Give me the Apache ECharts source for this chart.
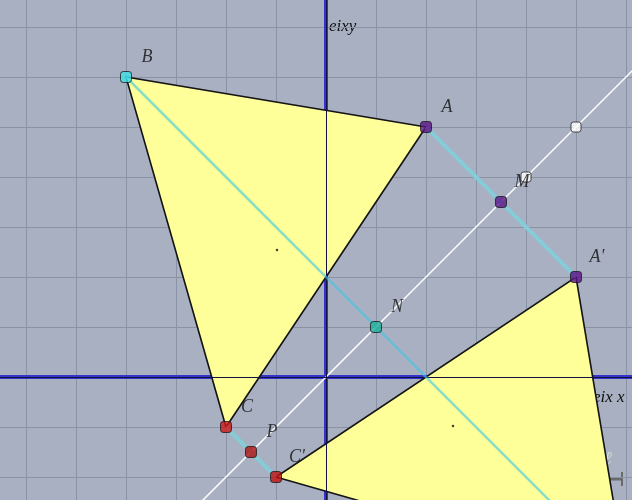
<!DOCTYPE html>
<html>
<head>
<meta charset="utf-8">
<script src="https://cdn.jsdelivr.net/npm/echarts@6/dist/echarts.min.js"></script>
<style>
  html, body { margin: 0; padding: 0; background: #a8b0c2; }
  #chart { width: 632px; height: 500px; }
</style>
</head>
<body>
<div id="chart"></div>
<script>
// triangle ABC and its mirror image A'B'C' over the line y = x
const triangleABC = [[2, 5], [-4, 6], [-2, -1]];
const triangleImage = [[5, 2], [6, -4], [-1, -2]];

// the mirror line (passes through the two white points)
const mirrorLine = [[-8, -8], [9, 9]];
const mirrorPoints = [[4, 4], [5, 5]];

// named points
const pointNames = ['B', 'A', 'M', "A'", 'N', 'C', 'P', "C'"];
const pointX = [-4, 2, 3.5, 5, 1, -2, -1.5, -1];
const pointY = [6, 5, 3.5, 2, 1, -1, -1.5, -2];
const pointColors = ['#3ee0e8', '#5a1488', '#5a1488', '#5a1488', '#1fb09a', '#d01818', '#b01010', '#c01010'];

// segments joining each point with its image
const segAA = [[2, 5], [5, 2]];
const segCC = [[-2, -1], [-1, -2]];
const segBB = [[-4, 6], [6, -4]];

// small dots inside the triangles
const innerDots = [[-0.98, 2.54], [2.54, -0.98]];

// grid lines of the plane
const gridX = [-6, -5, -4, -3, -2, -1, 1, 2, 3, 4, 5, 6];
const gridY = [-2, -1, 1, 2, 3, 4, 5, 6, 7];

const chart = echarts.init(document.getElementById('chart'));

function triangle(pts) {
    return {
        type: 'custom',
        silent: true,
        z: 2,
        data: [[0, 0]],
        renderItem: function (params, api) {
            return {
                type: 'polygon',
                shape: { points: pts.map(p => api.coord(p)) },
                style: { fill: '#ffff99', stroke: '#141414', lineWidth: 1.6 }
            };
        }
    };
}

function segment(pts, color, width, opacity, z) {
    return {
        type: 'line',
        silent: true,
        z: z,
        data: pts,
        symbol: 'none',
        lineStyle: { color: color, width: width, opacity: opacity },
        animation: false
    };
}

const labelFont = { fontFamily: 'Liberation Serif', fontStyle: 'italic', fontSize: 18, color: '#111' };

const option = {
    backgroundColor: '#a8b0c2',
    animation: false,
    grid: { left: 0, right: 0, top: 0, bottom: 0 },
    xAxis: {
        type: 'value', min: -6.52, max: 6.12,
        axisLine: { onZero: true, lineStyle: { color: '#3434cc', width: 4 } },
        axisTick: { show: false }, axisLabel: { show: false },
        splitLine: { show: false }
    },
    yAxis: {
        type: 'value', min: -2.46, max: 7.54,
        axisLine: { onZero: true, lineStyle: { color: '#3434cc', width: 4 } },
        axisTick: { show: false }, axisLabel: { show: false },
        splitLine: { show: false }
    },
    graphic: [
        { type: 'text', left: 329, top: 18, style: { text: 'eixy', font: 'italic 17px "Liberation Serif"', fill: '#111' } },
        { type: 'text', left: 593, top: 389, style: { text: 'eix x', font: 'italic 17px "Liberation Serif"', fill: '#111' } },
        { type: 'text', left: 604, top: 450, style: { text: 'ℓ', font: 'italic 18px "Liberation Serif"', fill: '#ddd' } },
        { type: 'line', shape: { x1: 600, y1: 479, x2: 622, y2: 479 }, style: { stroke: '#6a6a6a', lineWidth: 3 } },
        { type: 'line', shape: { x1: 622, y1: 472, x2: 622, y2: 486 }, style: { stroke: '#6a6a6a', lineWidth: 2 } }
    ],
    series: [
        // grey grid lines
        {
            type: 'line', data: [], z: 0, silent: true,
            markLine: {
                z: 0, silent: true, symbol: 'none', label: { show: false },
                lineStyle: { color: '#8a92a6', width: 1, type: 'solid' },
                data: gridX.map(v => ({ xAxis: v })).concat(gridY.map(v => ({ yAxis: v })))
            }
        },
        // white mirror line y = x
        segment(mirrorLine, '#ffffff', 1.5, 1, 1),
        triangle(triangleABC),
        triangle(triangleImage),
        // thin dark line along both axes (visible over the triangles)
        {
            type: 'custom', z: 3, silent: true,
            data: [[0, 0]],
            renderItem: function (params, api) {
                const o = api.coord([0, 0]);
                const cs = params.coordSys;
                const ox = Math.round(o[0]) + 0.5;
                const oy = Math.round(o[1]) + 0.5;
                return {
                    type: 'group',
                    children: [
                        {
                            type: 'rect',
                            shape: { x: cs.x, y: oy - 0.5, width: cs.width, height: 1 },
                            style: { fill: '#121240' }
                        },
                        {
                            type: 'rect',
                            shape: { x: ox - 0.5, y: cs.y, width: 1, height: cs.height },
                            style: { fill: '#121240' }
                        }
                    ]
                };
            }
        },
        segment(segAA, '#86ccd8', 4, 1, 4),
        segment(segCC, '#86ccd8', 4, 1, 4),
        segment(segBB, '#3ec8e4', 2.5, 0.6, 4),
        {
            type: 'scatter', z: 5, silent: true,
            symbol: 'circle', symbolSize: 2.5,
            itemStyle: { color: '#111' },
            data: innerDots
        },
        {
            type: 'scatter', z: 6, silent: true,
            symbol: 'roundRect', symbolSize: 10,
            itemStyle: { color: '#ffffff', borderColor: '#222', borderWidth: 1 },
            data: mirrorPoints
        },
        {
            type: 'scatter', z: 7, silent: true,
            symbol: 'roundRect', symbolSize: 11,
            data: pointNames.map((n, i) => ({
                name: n,
                value: [pointX[i], pointY[i]],
                itemStyle: { color: pointColors[i], borderColor: '#1a1a1a', borderWidth: 1 }
            })),
            label: Object.assign({
                show: true, position: 'inside', offset: [21, -20],
                formatter: p => p.name
            }, labelFont)
        }
    ]
};

chart.setOption(option);
</script>
</body>
</html>
